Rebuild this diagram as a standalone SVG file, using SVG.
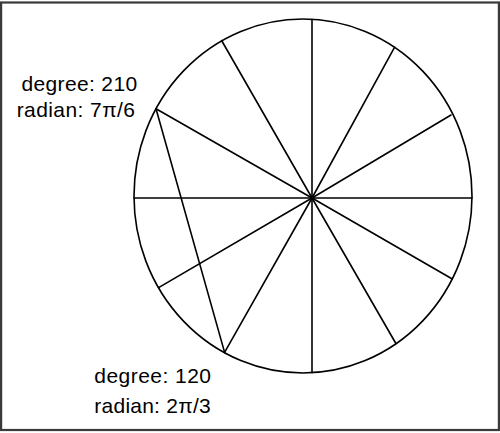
<svg xmlns="http://www.w3.org/2000/svg" width="500" height="433" viewBox="0 0 500 433">
<style>
.frame{fill:#fff;stroke:#3a3a3a;stroke-width:2.2}
.edge{fill:none;stroke:#000;stroke-width:1.6;stroke-linecap:round}
.lbl{font-family:"Liberation Sans",Arial,sans-serif;font-size:21px;fill:#000}
</style>
<rect class="frame" x="1.1" y="2.5" width="497.8" height="427.5"/>
<g id="circle">
<ellipse class="edge" cx="303" cy="196" rx="169" ry="177"/>
</g>
<g id="connectors">
<line class="edge" x1="312" y1="198" x2="472" y2="198"/>
<line class="edge" x1="312" y1="198" x2="452.3" y2="279"/>
<line class="edge" x1="312" y1="198" x2="395.9" y2="343.5"/>
<line class="edge" x1="312" y1="198" x2="312" y2="372.7"/>
<line class="edge" x1="312" y1="198" x2="224.6" y2="352.4"/>
<line class="edge" x1="312" y1="198" x2="158.6" y2="287.6"/>
<line class="edge" x1="312" y1="198" x2="134" y2="198"/>
<line class="edge" x1="312" y1="198" x2="156" y2="108.7"/>
<line class="edge" x1="312" y1="198" x2="221.6" y2="40.5"/>
<line class="edge" x1="312" y1="198" x2="312" y2="19.2"/>
<line class="edge" x1="312" y1="198" x2="394.5" y2="47.3"/>
<line class="edge" x1="312" y1="198" x2="451" y2="115"/>
<line class="edge" x1="156" y1="108.7" x2="224.6" y2="352.4"/>
</g>
<g id="label-210">
<text class="lbl" x="21.5" y="90.7" textLength="115.6">degree: 210</text>
<text class="lbl" x="16.7" y="116.7" textLength="118.3">radian: 7π/6</text>
</g>
<g id="label-120">
<text class="lbl" x="94.3" y="383.3" textLength="116.7">degree: 120</text>
<text class="lbl" x="94.3" y="412.7" textLength="116.4">radian: 2π/3</text>
</g>
</svg>
